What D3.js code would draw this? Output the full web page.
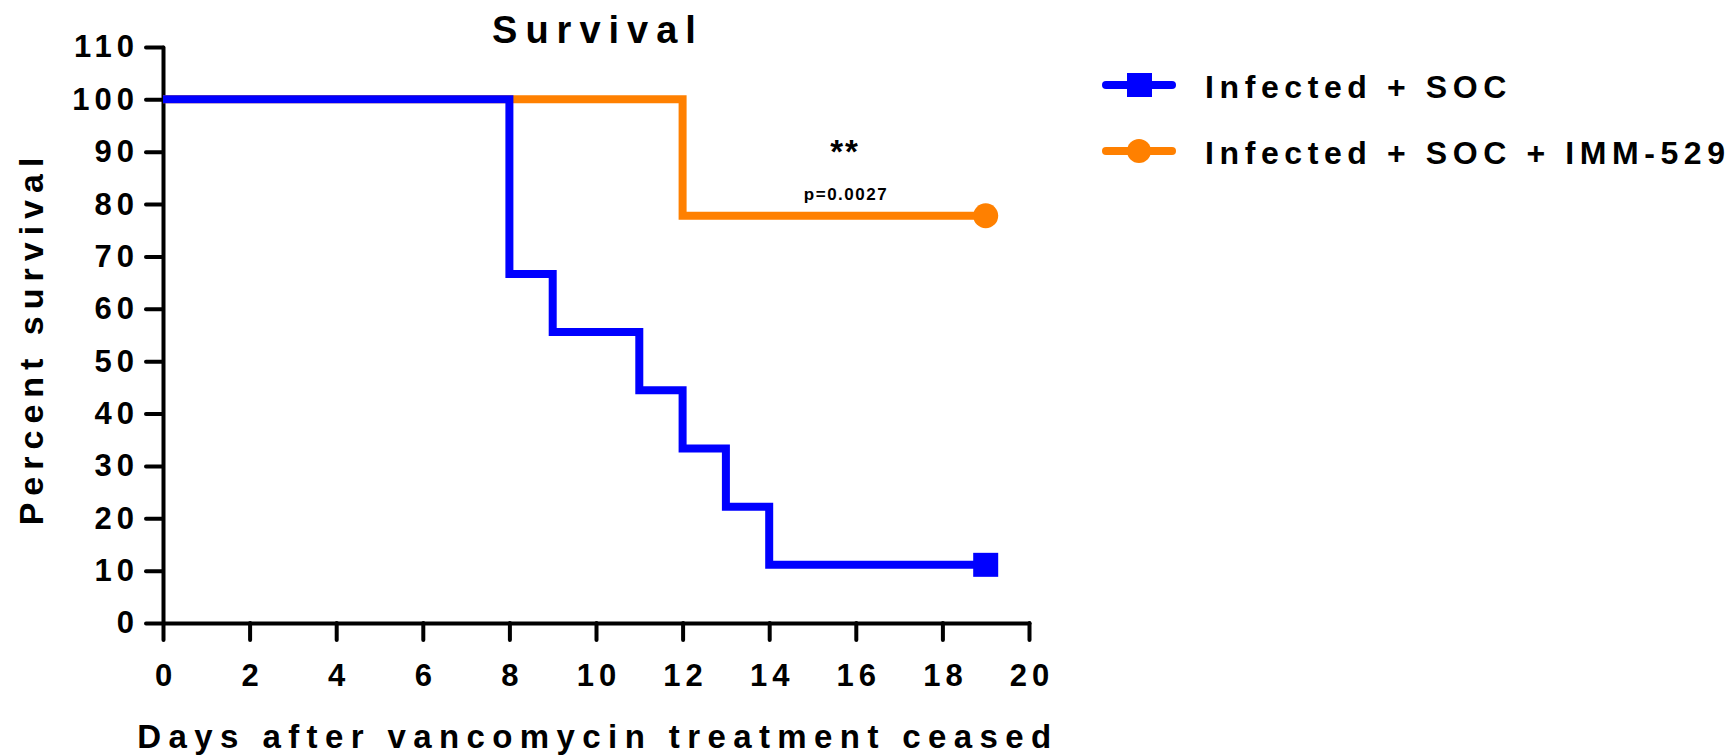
<!DOCTYPE html>
<html>
<head>
<meta charset="utf-8">
<script src="https://cdn.jsdelivr.net/npm/d3@7"></script>
<style>
  body { margin: 0; background: #fff; }
  text { font-family: "Liberation Sans", Arial, sans-serif; font-weight: bold; fill: #000; }
</style>
</head>
<body>
<div id="chart"></div>
<script>
// Kaplan-Meier steps
var socDays = [0, 8, 9, 11, 12, 13, 14, 19];
var socSurvival = [100, 66.67, 55.56, 44.44, 33.33, 22.22, 11.11, 11.11];
var immDays = [0, 12, 19];
var immSurvival = [100, 77.78, 77.78];
var seriesNames = ["Infected + SOC", "Infected + SOC + IMM-529"];
var xTicks = [0, 2, 4, 6, 8, 10, 12, 14, 16, 18, 20];
var yTicks = [0, 10, 20, 30, 40, 50, 60, 70, 80, 90, 100, 110];

var width = 1734, height = 755;
var blue = "#0000ff", orange = "#ff8000";

var svg = d3.select("#chart")
    .append("svg")
    .attr("width", width)
    .attr("height", height);

var x = d3.scaleLinear().domain([0, 20]).range([163, 1029]);
var y = d3.scaleLinear().domain([0, 110]).range([623, 47]);

// axes
var xAxis = d3.axisBottom(x).tickValues(xTicks).tickSize(17).tickSizeOuter(0).tickPadding(24);
var yAxis = d3.axisLeft(y).tickValues(yTicks).tickSize(17).tickSizeOuter(0).tickPadding(12);

var gx = svg.append("g")
    .attr("transform", "translate(0," + y(0) + ")")
    .call(xAxis);
var gy = svg.append("g")
    .attr("transform", "translate(" + x(0) + ",0)")
    .call(yAxis);

[gx, gy].forEach(function(g) {
    g.select(".domain").attr("stroke", "#000").attr("stroke-width", 4).attr("stroke-linecap", "round");
    g.selectAll(".tick line").attr("stroke", "#000").attr("stroke-width", 4).attr("stroke-linecap", "round");
    g.selectAll(".tick text")
        .attr("font-family", "Liberation Sans, Arial, sans-serif")
        .attr("font-weight", "bold")
        .attr("font-size", 31)
        .attr("letter-spacing", 5)
        .attr("fill", "#000");
});
gy.selectAll(".tick text").attr("dx", 5);
gx.selectAll(".tick text").attr("dx", 2.5);

// survival curves
var line = d3.line()
    .x(d => x(d[0]))
    .y(d => y(d[1]))
    .curve(d3.curveStepAfter);

var immData = d3.zip(immDays, immSurvival);
var socData = d3.zip(socDays, socSurvival);

svg.append("path")
    .datum(immData)
    .attr("d", line)
    .attr("fill", "none")
    .attr("stroke", orange)
    .attr("stroke-width", 8);

svg.append("path")
    .datum(socData)
    .attr("d", line)
    .attr("fill", "none")
    .attr("stroke", blue)
    .attr("stroke-width", 8);

// end symbols
var lastImm = immData[immData.length - 1];
svg.append("circle")
    .attr("cx", x(lastImm[0]))
    .attr("cy", y(lastImm[1]))
    .attr("r", 12.5)
    .attr("fill", orange);

var lastSoc = socData[socData.length - 1];
svg.append("rect")
    .attr("x", x(lastSoc[0]) - 12.5)
    .attr("y", y(lastSoc[1]) - 12)
    .attr("width", 25)
    .attr("height", 24)
    .attr("fill", blue);

// significance annotation
svg.append("text")
    .attr("x", 845).attr("y", 163)
    .attr("text-anchor", "middle")
    .attr("font-size", 33)
    .attr("letter-spacing", 2)
    .text("**");
svg.append("text")
    .attr("x", 846).attr("y", 200)
    .attr("text-anchor", "middle")
    .attr("font-size", 17)
    .attr("letter-spacing", 1.5)
    .text("p=0.0027");

// titles
svg.append("text")
    .attr("x", 598).attr("y", 43)
    .attr("text-anchor", "middle")
    .attr("font-size", 38)
    .attr("letter-spacing", 8)
    .text("Survival");

svg.append("text")
    .attr("x", 598).attr("y", 748)
    .attr("text-anchor", "middle")
    .attr("font-size", 33)
    .attr("letter-spacing", 7.4)
    .text("Days after vancomycin treatment ceased");

svg.append("text")
    .attr("transform", "translate(43,338) rotate(-90)")
    .attr("text-anchor", "middle")
    .attr("font-size", 34)
    .attr("letter-spacing", 7)
    .text("Percent survival");

// legend
var legendRows = [
    { name: seriesNames[0], color: blue, shape: "square", cy: 85 },
    { name: seriesNames[1], color: orange, shape: "circle", cy: 151 }
];
var legend = svg.selectAll(".legend")
    .data(legendRows)
    .enter()
    .append("g")
    .attr("class", "legend");

legend.append("line")
    .attr("x1", 1106).attr("x2", 1172)
    .attr("y1", d => d.cy).attr("y2", d => d.cy)
    .attr("stroke", d => d.color)
    .attr("stroke-width", 8)
    .attr("stroke-linecap", "round");

legend.filter(d => d.shape == "square").append("rect")
    .attr("x", 1127).attr("y", d => d.cy - 12)
    .attr("width", 25).attr("height", 24)
    .attr("fill", d => d.color);

legend.filter(d => d.shape == "circle").append("circle")
    .attr("cx", 1139).attr("cy", d => d.cy)
    .attr("r", 12)
    .attr("fill", d => d.color);

legend.append("text")
    .attr("x", 1205)
    .attr("y", d => d.cy + 13)
    .attr("font-size", 32)
    .attr("letter-spacing", 5.6)
    .text(d => d.name);
</script>
</body>
</html>
